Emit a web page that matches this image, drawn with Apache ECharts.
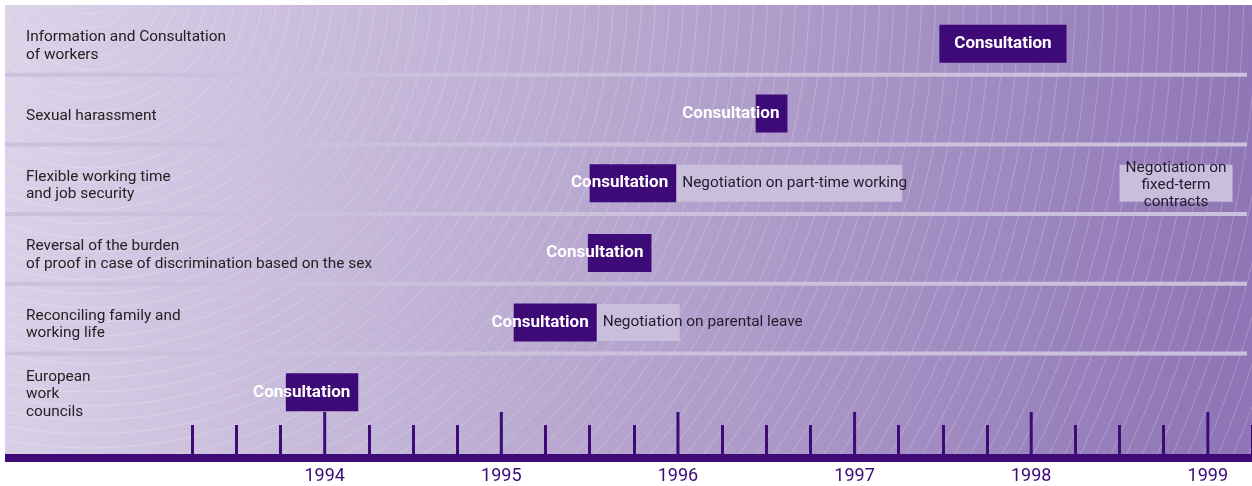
<!DOCTYPE html>
<html>
<head>
<meta charset="utf-8">
<script src="https://cdn.jsdelivr.net/npm/echarts@6/dist/echarts.min.js"></script>
<style>
  html, body { margin: 0; padding: 0; background: #fff; }
  #chart { width: 1252px; height: 486px; }
</style>
</head>
<body>
<div id="chart"></div>
<script>
// rows, top to bottom
const rowNames = [
  "Information and Consultation\nof workers",
  "Sexual harassment",
  "Flexible working time\nand job security",
  "Reversal of the burden\nof proof in case of discrimination based on the sex",
  "Reconciling family and\nworking life",
  "European\nwork\ncouncils",
];

// consultation phase per row (years)
const consultStart = [1997.48, 1996.44, 1995.5, 1995.49, 1995.07, 1993.78];
const consultEnd = [1998.2, 1996.62, 1995.99, 1995.85, 1995.54, 1994.19];

// negotiation phases
const negoRow = [2, 2, 4];
const negoStart = [1995.99, 1998.5, 1995.54];
const negoEnd = [1997.27, 1999.14, 1996.01];
const negoLabel = [
  "Negotiation on part-time working",
  "Negotiation on\nfixed-term\ncontracts",
  "Negotiation on parental leave",
];

// axis
const yearTicks = [1994, 1995, 1996, 1997, 1998, 1999];
const quarterTicks = [
  1993.25, 1993.5, 1993.75, 1994.25, 1994.5, 1994.75, 1995.25, 1995.5, 1995.75,
  1996.25, 1996.5, 1996.75, 1997.25, 1997.5, 1997.75, 1998.25, 1998.5, 1998.75, 1999.25,
];
const xMin = 1992.19;
const xMax = 1999.25;
const yMax = 6.5;

const purple = "#3d0a78";
const chart = echarts.init(document.getElementById("chart"));

// faint concentric arcs in the background
const arcs = [];
for (let r = 20; r < 1450; r += 14) {
  arcs.push({
    type: "circle",
    z: -10,
    silent: true,
    shape: { cx: 90, cy: -20, r: r },
    style: { fill: null, stroke: "rgba(255,255,255,0.28)", lineWidth: 0.8 },
  });
}

const separators = [];
for (let i = 1; i < rowNames.length; i++) separators.push([xMin, i]);

const consultData = consultStart.map((s, i) => [s, consultEnd[i], i]);
const negoData = negoStart.map((s, i) => [s, negoEnd[i], negoRow[i], i]);

const option = {
  animation: false,
  graphic: [
    {
      type: "rect",
      z: -20,
      silent: true,
      shape: { x: 5, y: 5, width: 1247, height: 453 },
      style: {
        fill: new echarts.graphic.LinearGradient(0, 0, 1, 0.35, [
          { offset: 0, color: "#dcd3e9" },
          { offset: 0.5, color: "#b7a7cf" },
          { offset: 1, color: "#8f76b6" },
        ]),
      },
    },
    ...arcs,
    // white margins hide the arcs outside the panel
    { type: "rect", z: -5, silent: true, shape: { x: 0, y: 0, width: 5, height: 486 }, style: { fill: "#fff" } },
    { type: "rect", z: -5, silent: true, shape: { x: 0, y: 0, width: 1252, height: 5 }, style: { fill: "#fff" } },
    { type: "rect", z: -5, silent: true, shape: { x: 0, y: 460, width: 1252, height: 26 }, style: { fill: "#fff" } },
  ],
  grid: { left: 5, right: 0, top: 5, bottom: 28 },
  xAxis: {
    type: "value",
    min: xMin,
    max: xMax,
    position: "bottom",
    axisLine: { show: true, onZero: false, lineStyle: { color: purple, width: 8, cap: "butt" } },
    axisTick: {
      show: true,
      inside: true,
      length: 33,
      customValues: quarterTicks,
      lineStyle: { color: purple, width: 3 },
    },
    axisLabel: {
      customValues: yearTicks,
      formatter: (v) => String(v),
      color: purple,
      fontSize: 18,
      fontFamily: "Roboto",
      margin: 9,
    },
    splitLine: { show: false },
  },
  yAxis: {
    type: "value",
    inverse: true,
    min: 0,
    max: yMax,
    axisLine: { show: false },
    axisTick: { show: false },
    splitLine: { show: false },
    axisLabel: {
      inside: true,
      margin: 21,
      customValues: rowNames.map((_, i) => i + 0.59),
      formatter: (v) => rowNames[Math.floor(v)],
      color: "#222",
      fontSize: 15.4,
      lineHeight: 17.5,
      fontFamily: "Roboto",
      align: "left",
    },
  },
  series: [
    {
      // row separators
      type: "custom",
      silent: true,
      data: separators,
      renderItem: (params, api) => {
        const p = api.coord([api.value(0), api.value(1)]);
        return {
          type: "rect",
          shape: { x: params.coordSys.x, y: p[1] - 2, width: params.coordSys.width - 5, height: 4 },
          style: { fill: "#cbc1dd" },
        };
      },
    },
    {
      // long ticks at each year
      type: "custom",
      silent: true,
      clip: false,
      data: yearTicks.map((v) => [v, yMax]),
      renderItem: (params, api) => {
        const p = api.coord([api.value(0), api.value(1)]);
        return {
          type: "line",
          shape: { x1: p[0], y1: p[1], x2: p[0], y2: p[1] - 46 },
          style: { stroke: purple, lineWidth: 3 },
        };
      },
    },
    {
      type: "custom",
      silent: true,
      clip: false,
      data: negoData,
      renderItem: (params, api) => {
        const s = api.coord([api.value(0), api.value(2) + 0.5]);
        const e = api.coord([api.value(1), api.value(2) + 0.5]);
        const h = 37;
        const y = s[1] + 4 - h / 2;
        const label = negoLabel[api.value(3)];
        const multi = label.indexOf("\n") >= 0;
        return {
          type: "group",
          children: [
            { type: "rect", shape: { x: s[0], y: y, width: e[0] - s[0], height: h }, style: { fill: "#c9bedb" } },
            {
              type: "text",
              x: multi ? (s[0] + e[0]) / 2 : s[0] + 6,
              y: y + h / 2 + (multi ? 2 : 0),
              style: {
                text: label,
                fill: "#231b2e",
                font: "15.4px Roboto",
                lineHeight: 17,
                align: multi ? "center" : "left",
                verticalAlign: "middle",
              },
            },
          ],
        };
      },
    },
    {
      type: "custom",
      silent: true,
      clip: false,
      data: consultData,
      renderItem: (params, api) => {
        const s = api.coord([api.value(0), api.value(2) + 0.5]);
        const e = api.coord([api.value(1), api.value(2) + 0.5]);
        const w = e[0] - s[0];
        const h = 38;
        const y = s[1] + 4 - h / 2;
        const wide = w > 110; // label fits inside the bar
        return {
          type: "group",
          children: [
            { type: "rect", shape: { x: s[0], y: y, width: w, height: h }, style: { fill: purple } },
            {
              type: "text",
              x: wide ? s[0] + w / 2 : e[0] - 8,
              y: y + h / 2,
              style: {
                text: "Consultation",
                fill: "#fff",
                font: "bold 17px Roboto",
                align: wide ? "center" : "right",
                verticalAlign: "middle",
              },
            },
          ],
        };
      },
    },
  ],
};

chart.setOption(option);
</script>
</body>
</html>
